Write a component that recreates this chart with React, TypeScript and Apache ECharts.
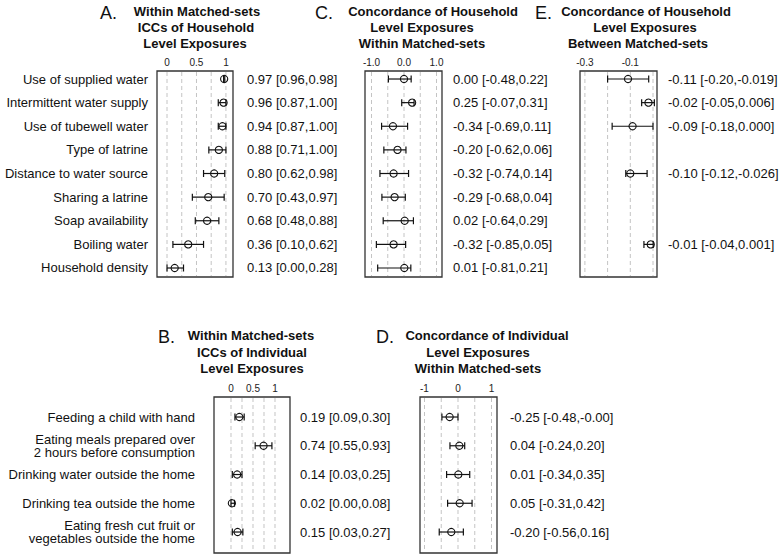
import React, { useEffect, useRef } from "react";
import * as echarts from "echarts";

const FONT = '"Liberation Sans", Arial, Helvetica, sans-serif';

// ---------- Household level exposures (panels A, C, E) ----------
const householdExposures = [
  "Use of supplied water",
  "Intermittent water supply",
  "Use of tubewell water",
  "Type of latrine",
  "Distance to water source",
  "Sharing a latrine",
  "Soap availability",
  "Boiling water",
  "Household density",
];
const householdRows = [1, 2, 3, 4, 5, 6, 7, 8, 9];

// A. ICCs of household level exposures
const iccHouseholdEst = [0.97, 0.96, 0.94, 0.88, 0.8, 0.7, 0.68, 0.36, 0.13];
const iccHouseholdLow = [0.96, 0.87, 0.87, 0.71, 0.62, 0.43, 0.48, 0.1, 0.0];
const iccHouseholdHigh = [0.98, 1.0, 1.0, 1.0, 0.98, 0.97, 0.88, 0.62, 0.28];
const iccHouseholdText = [
  "0.97 [0.96,0.98]",
  "0.96 [0.87,1.00]",
  "0.94 [0.87,1.00]",
  "0.88 [0.71,1.00]",
  "0.80 [0.62,0.98]",
  "0.70 [0.43,0.97]",
  "0.68 [0.48,0.88]",
  "0.36 [0.10,0.62]",
  "0.13 [0.00,0.28]",
];

// C. Concordance of household level exposures within matched-sets
const concHhWithinEst = [0.0, 0.25, -0.34, -0.2, -0.32, -0.29, 0.02, -0.32, 0.01];
const concHhWithinLow = [-0.48, -0.07, -0.69, -0.62, -0.74, -0.68, -0.64, -0.85, -0.81];
const concHhWithinHigh = [0.22, 0.31, 0.11, 0.06, 0.14, 0.04, 0.29, 0.05, 0.21];
const concHhWithinText = [
  "0.00 [-0.48,0.22]",
  "0.25 [-0.07,0.31]",
  "-0.34 [-0.69,0.11]",
  "-0.20 [-0.62,0.06]",
  "-0.32 [-0.74,0.14]",
  "-0.29 [-0.68,0.04]",
  "0.02 [-0.64,0.29]",
  "-0.32 [-0.85,0.05]",
  "0.01 [-0.81,0.21]",
];

// E. Concordance of household level exposures between matched-sets
const concHhBetweenRows = [1, 2, 3, 5, 8];
const concHhBetweenEst = [-0.11, -0.02, -0.09, -0.1, -0.01];
const concHhBetweenLow = [-0.2, -0.05, -0.18, -0.12, -0.04];
const concHhBetweenHigh = [-0.019, 0.006, 0.0, -0.026, 0.001];
const concHhBetweenText = [
  "-0.11 [-0.20,-0.019]",
  "-0.02 [-0.05,0.006]",
  "-0.09 [-0.18,0.000]",
  "-0.10 [-0.12,-0.026]",
  "-0.01 [-0.04,0.001]",
];

// ---------- Individual level exposures (panels B, D) ----------
const individualExposures = [
  "Feeding a child with hand",
  "Eating meals prepared over\n2 hours before consumption",
  "Drinking water outside the home",
  "Drinking tea outside the home",
  "Eating fresh cut fruit or\nvegetables outside the home",
];
const individualRows = [1, 2, 3, 4, 5];

// B. ICCs of individual level exposures
const iccIndivEst = [0.19, 0.74, 0.14, 0.02, 0.15];
const iccIndivLow = [0.09, 0.55, 0.03, 0.0, 0.03];
const iccIndivHigh = [0.3, 0.93, 0.25, 0.08, 0.27];
const iccIndivText = [
  "0.19 [0.09,0.30]",
  "0.74 [0.55,0.93]",
  "0.14 [0.03,0.25]",
  "0.02 [0.00,0.08]",
  "0.15 [0.03,0.27]",
];

// D. Concordance of individual level exposures within matched-sets
const concIndivEst = [-0.25, 0.04, 0.01, 0.05, -0.2];
const concIndivLow = [-0.48, -0.24, -0.34, -0.31, -0.56];
const concIndivHigh = [-0.0, 0.2, 0.35, 0.42, 0.16];
const concIndivText = [
  "-0.25 [-0.48,-0.00]",
  "0.04 [-0.24,0.20]",
  "0.01 [-0.34,0.35]",
  "0.05 [-0.31,0.42]",
  "-0.20 [-0.56,0.16]",
];

// ---------- axis ticks ----------
const gridA = [0, 0.25, 0.5, 0.75, 1];
const ticksA = [0, 0.5, 1];
const gridC = [-1, -0.5, 0, 0.5, 1];
const ticksC = [-1, 0, 1];
const gridE = [-0.3, -0.2, -0.1, 0];
const ticksE = [-0.3, -0.1];
const gridB = [0, 0.25, 0.5, 0.75, 1];
const ticksB = [0, 0.5, 1];
const gridD = [-1, -0.5, 0, 0.5, 1];
const ticksD = [-1, 0, 1];

type Panel = {
  grid: { left: number; top: number; width: number; height: number };
  xMin: number;
  xMax: number;
  yMin: number;
  yMax: number;
  gridVals: number[];
  tickVals: number[];
  tickFmt: (v: number) => string;
  rows: number[];
  est: number[];
  low: number[];
  high: number[];
  text: string[];
  labels?: string[];
  labelGap: number;
  textGap: number;
};

const panels: Panel[] = [
  {
    grid: { left: 157, top: 71, width: 76, height: 206 },
    xMin: -0.17, xMax: 1.12, yMin: 0.661, yMax: 9.381,
    gridVals: gridA, tickVals: ticksA, tickFmt: (v) => String(v),
    rows: householdRows, est: iccHouseholdEst, low: iccHouseholdLow, high: iccHouseholdHigh,
    text: iccHouseholdText, labels: householdExposures, labelGap: 9, textGap: 14,
  },
  {
    grid: { left: 365, top: 71, width: 77, height: 206 },
    xMin: -1.2, xMax: 1.169, yMin: 0.661, yMax: 9.381,
    gridVals: gridC, tickVals: ticksC, tickFmt: (v) => v.toFixed(1),
    rows: householdRows, est: concHhWithinEst, low: concHhWithinLow, high: concHhWithinHigh,
    text: concHhWithinText, labelGap: 0, textGap: 11,
  },
  {
    grid: { left: 580, top: 71, width: 77, height: 206 },
    xMin: -0.3216, xMax: 0.0176, yMin: 0.661, yMax: 9.381,
    gridVals: gridE, tickVals: ticksE, tickFmt: (v) => v.toFixed(1),
    rows: concHhBetweenRows, est: concHhBetweenEst, low: concHhBetweenLow, high: concHhBetweenHigh,
    text: concHhBetweenText, labelGap: 0, textGap: 11,
  },
  {
    grid: { left: 214, top: 397, width: 76, height: 156 },
    xMin: -0.386, xMax: 1.341, yMin: 0.304, yMax: 5.73,
    gridVals: gridB, tickVals: ticksB, tickFmt: (v) => String(v),
    rows: individualRows, est: iccIndivEst, low: iccIndivLow, high: iccIndivHigh,
    text: iccIndivText, labels: individualExposures, labelGap: 19, textGap: 10,
  },
  {
    grid: { left: 420, top: 397, width: 77, height: 156 },
    xMin: -1.134, xMax: 1.164, yMin: 0.304, yMax: 5.73,
    gridVals: gridD, tickVals: ticksD, tickFmt: (v) => String(v),
    rows: individualRows, est: concIndivEst, low: concIndivLow, high: concIndivHigh,
    text: concIndivText, labelGap: 0, textGap: 13,
  },
];

const titles = [
  { letter: "A.", lx: 100, ly: 13, cx: [197, 196, 195], y: [11, 27, 43],
    lines: ["Within Matched-sets", "ICCs of Household", "Level Exposures"] },
  { letter: "C.", lx: 315, ly: 13, cx: [433, 422, 422], y: [11, 27, 43],
    lines: ["Concordance of Household", "Level Exposures", "Within Matched-sets"] },
  { letter: "E.", lx: 535, ly: 13, cx: [646, 645, 638], y: [11, 27, 43],
    lines: ["Concordance of Household", "Level Exposures", "Between Matched-sets"] },
  { letter: "B.", lx: 158, ly: 337, cx: [251, 252, 252], y: [335, 352, 368],
    lines: ["Within Matched-sets", "ICCs of Individual", "Level Exposures"] },
  { letter: "D.", lx: 376, ly: 337, cx: [487, 478, 478], y: [335, 352, 368],
    lines: ["Concordance of Individual", "Level Exposures", "Within Matched-sets"] },
];

const LABEL_LINE = 13.5;

function buildOption() {
  const grid: any[] = [];
  const xAxis: any[] = [];
  const yAxis: any[] = [];
  const series: any[] = [];

  panels.forEach((p, i) => {
    grid.push({
      ...p.grid,
      show: true,
      borderColor: "#333333",
      borderWidth: 1.3,
      backgroundColor: "transparent",
    });
    xAxis.push({
      type: "value",
      gridIndex: i,
      min: p.xMin,
      max: p.xMax,
      position: "top",
      axisLine: { show: false },
      axisTick: { show: false, customValues: p.tickVals },
      splitLine: { show: false },
      axisLabel: {
        customValues: p.tickVals,
        formatter: (v: number) => p.tickFmt(v),
        fontFamily: FONT,
        fontSize: 10,
        color: "#222",
        margin: 4,
      },
    });
    yAxis.push({
      type: "value",
      gridIndex: i,
      min: p.yMin,
      max: p.yMax,
      inverse: true,
      show: false,
      splitLine: { show: false },
    });

    // dashed reference grid lines
    series.push({
      type: "custom",
      xAxisIndex: i,
      yAxisIndex: i,
      silent: true,
      z: 1,
      data: p.gridVals.map((v) => [v, p.yMin]),
      encode: { x: 0, y: 1 },
      renderItem: (params: any, api: any) => {
        const cs = params.coordSys;
        const x = api.coord([api.value(0), p.yMin])[0];
        return {
          type: "line",
          shape: { x1: x, y1: cs.y + 1, x2: x, y2: cs.y + cs.height - 1 },
          style: { stroke: "#c4c4c4", lineWidth: 1, lineDash: [4, 3] },
        };
      },
    });

    // estimates with confidence intervals
    series.push({
      type: "custom",
      xAxisIndex: i,
      yAxisIndex: i,
      silent: true,
      z: 3,
      clip: false,
      data: p.rows.map((r, k) => [p.est[k], r, p.low[k], p.high[k]]),
      encode: { x: [0, 2, 3], y: 1 },
      renderItem: (params: any, api: any) => {
        const cs = params.coordSys;
        const k = params.dataIndex;
        const row = api.value(1);
        const pe = api.coord([api.value(0), row]);
        const pl = api.coord([api.value(2), row]);
        const ph = api.coord([api.value(3), row]);
        const y = pe[1];
        const cap = 3.5;
        const stroke = { stroke: "#111", lineWidth: 1.2 };
        const children: any[] = [
          { type: "line", shape: { x1: pl[0], y1: y, x2: ph[0], y2: y }, style: stroke },
          { type: "line", shape: { x1: pl[0], y1: y - cap, x2: pl[0], y2: y + cap }, style: stroke },
          { type: "line", shape: { x1: ph[0], y1: y - cap, x2: ph[0], y2: y + cap }, style: stroke },
          {
            type: "circle",
            shape: { cx: pe[0], cy: y, r: 3.6 },
            style: { stroke: "#111", lineWidth: 1.1, fill: "none" },
          },
          {
            type: "text",
            x: cs.x + cs.width + p.textGap,
            y: y,
            style: {
              text: p.text[k],
              font: `13px ${FONT}`,
              fill: "#111",
              textAlign: "left",
              textVerticalAlign: "middle",
            },
          },
        ];
        if (p.labels) {
          const parts = p.labels[k].split("\n");
          const y0 = y - ((parts.length - 1) * LABEL_LINE) / 2;
          parts.forEach((part, j) => {
            children.push({
              type: "text",
              x: cs.x - p.labelGap,
              y: y0 + j * LABEL_LINE,
              style: {
                text: part,
                font: `13px ${FONT}`,
                fill: "#111",
                textAlign: "right",
                textVerticalAlign: "middle",
              },
            });
          });
        }
        return { type: "group", children };
      },
    });
  });

  const graphic: any[] = [];
  titles.forEach((t) => {
    graphic.push({
      type: "text",
      x: t.lx,
      y: t.ly,
      style: {
        text: t.letter,
        font: `18px ${FONT}`,
        fill: "#111",
        textAlign: "left",
        textVerticalAlign: "middle",
      },
    });
    t.lines.forEach((line, j) => {
      graphic.push({
        type: "text",
        x: t.cx[j],
        y: t.y[j],
        style: {
          text: line,
          font: `bold 13px ${FONT}`,
          fill: "#111",
          textAlign: "center",
          textVerticalAlign: "middle",
        },
      });
    });
  });

  return {
    animation: false,
    backgroundColor: "#ffffff",
    grid,
    xAxis,
    yAxis,
    series,
    graphic,
  };
}

export default function App() {
  const ref = useRef<HTMLDivElement>(null);
  useEffect(() => {
    document.body.style.margin = "0";
    if (!ref.current) return;
    const chart = echarts.init(ref.current, undefined, { renderer: "svg" });
    chart.setOption(buildOption() as any);
    return () => {
      chart.dispose();
    };
  }, []);
  return <div ref={ref} style={{ width: 784, height: 555 }} />;
}
